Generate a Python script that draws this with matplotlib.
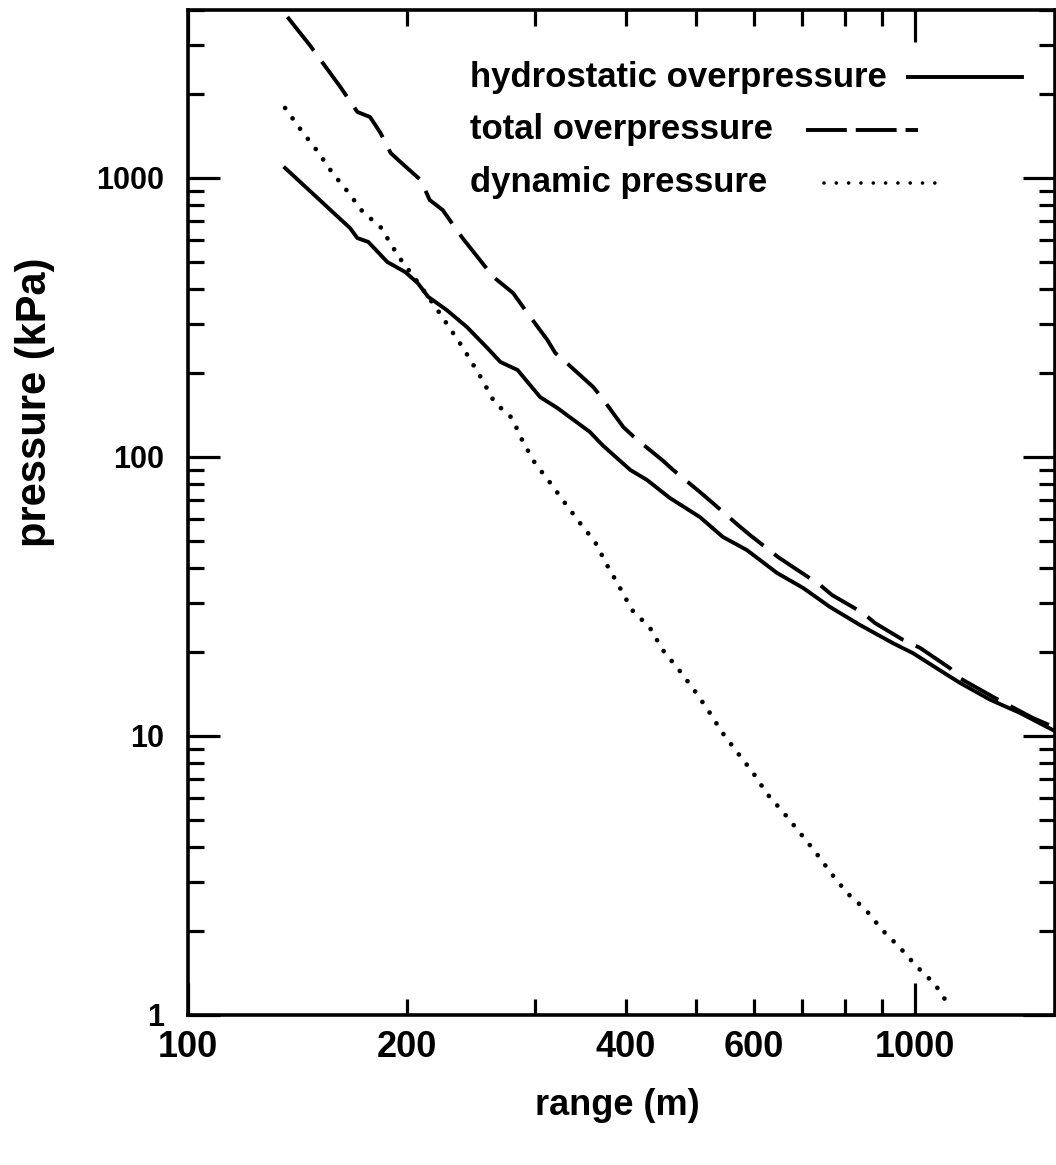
import matplotlib
matplotlib.use("Agg")
import matplotlib.pyplot as plt
from matplotlib.ticker import FixedLocator, FixedFormatter, NullFormatter

plt.rcParams['font.family'] = ['Liberation Sans', 'DejaVu Sans']
plt.rcParams['font.weight'] = 'bold'
plt.rcParams['axes.labelweight'] = 'bold'

# data
range_hydro = [136, 167, 171, 177, 188, 199, 207, 214, 227, 242, 258, 269, 284, 305, 322,
               357, 372, 406, 428, 460, 506, 544, 587, 646, 702, 764, 840, 933, 994, 1082,
               1153, 1268, 1394, 1548]
p_hydro = [1086, 662, 609, 590, 500, 460, 420, 375, 336, 292, 246, 219, 205, 164, 150,
           123, 110, 89.8, 82.7, 71.3, 60.9, 51.7, 46.4, 38.4, 33.9, 29.0, 25.0, 21.5, 19.8, 17.2,
           15.5, 13.5, 12.1, 10.5]

range_total = [137, 147, 162, 171, 178, 184, 190, 196, 209, 215, 224, 238, 263, 280, 293,
               312, 320, 332, 361, 371, 397, 412, 449, 465, 506, 527, 571, 593, 648, 673,
               740, 769, 848, 881, 963, 1016, 1117, 1153, 1281, 1330, 1453, 1548]
p_total = [3777, 2997, 2120, 1724, 1654, 1450, 1229, 1141, 983, 834, 768, 614, 442, 387, 328,
           263, 236, 217, 178, 163, 128, 117, 97.5, 89.8, 74.9, 68.4, 57.0, 52.5, 43.8, 41.0,
           34.8, 32.0, 27.6, 25.4, 22.1, 20.7, 17.5, 16.1, 13.8, 13.1, 11.6, 10.8]

range_dyn = [136, 143, 151, 158, 166, 174, 184, 195, 205, 219, 229, 239, 254, 264, 279,
             289, 300, 315, 330, 346, 363, 377, 393, 408, 432, 450, 474, 497, 519, 543,
             569, 599, 626, 660, 695, 731, 766, 806, 856, 901, 954, 1006, 1065, 1114]
p_dyn = [1782, 1486, 1239, 1042, 891, 755, 667, 521, 438, 345, 290, 246, 189, 157, 138,
         113, 95.2, 80.7, 68.4, 58.0, 49.6, 41.0, 33.9, 28.3, 24.4, 20.3, 17.2, 14.6, 12.4, 10.3,
         8.76, 7.37, 6.20, 5.30, 4.49, 3.81, 3.23, 2.74, 2.38, 2.02, 1.74, 1.49, 1.29, 1.08]

labels = ["hydrostatic overpressure", "total overpressure", "dynamic pressure"]

x_major = [100, 1000]
x_minor = [200, 300, 400, 500, 600, 700, 800, 900]
x_minor_labels = ["200", "", "400", "", "600", "", "", ""]
y_major = [1, 10, 100, 1000]
y_minor = [m * d for d in [1, 10, 100, 1000] for m in range(2, 10)]

LW = 2.8
DASH = (0, (11, 3.5))
DOT_LW = 3.4
DOT = (0, (0.01, 2.7))

fig = plt.figure(figsize=(10.56, 11.65), dpi=100)
ax = fig.add_axes([188 / 1056, 1 - 1015 / 1165, 867 / 1056, 1005 / 1165])

ax.plot(range_hydro, p_hydro, color="black", lw=LW)
ax.plot(range_total, p_total, color="black", lw=LW, linestyle=DASH)
ax.plot(range_dyn, p_dyn, color="black", lw=DOT_LW, linestyle=DOT, dash_capstyle="round")

ax.set_xscale("log")
ax.set_yscale("log")
ax.set_xlim(100, 1558)
ax.set_ylim(1, 4000)

ax.xaxis.set_major_locator(FixedLocator(x_major))
ax.xaxis.set_major_formatter(FixedFormatter([str(v) for v in x_major]))
ax.xaxis.set_minor_locator(FixedLocator(x_minor))
ax.xaxis.set_minor_formatter(FixedFormatter(x_minor_labels))
ax.yaxis.set_major_locator(FixedLocator(y_major))
ax.yaxis.set_major_formatter(FixedFormatter([str(v) for v in y_major]))
ax.yaxis.set_minor_locator(FixedLocator(y_minor))
ax.yaxis.set_minor_formatter(NullFormatter())

for s in ax.spines.values():
    s.set_linewidth(2.6)

ax.tick_params(which="both", direction="in", top=True, right=True, width=2.3, colors="black")
ax.tick_params(which="major", length=23)
ax.tick_params(which="minor", length=11.5)
ax.tick_params(axis="x", which="both", labelsize=26, pad=11)
ax.tick_params(axis="y", which="both", labelsize=22, pad=17)

ax.set_xlabel("range (m)", fontsize=26)
ax.xaxis.set_label_coords(0.495, -0.073)
ax.xaxis.label.set_va("top")
ax.set_ylabel("pressure (kPa)", fontsize=30)
ax.yaxis.set_label_coords(-0.153, 0.61)

# hand-placed key, text left-aligned with the sample after it
key_rows = [0.933, 0.881, 0.828]
for lab, yk in zip(labels, key_rows):
    ax.text(0.325, yk, lab, transform=ax.transAxes, fontsize=25, ha="left", va="center")
ax.plot([0.83, 0.962], [key_rows[0], key_rows[0]], transform=ax.transAxes,
        color="black", lw=LW)
ax.plot([0.713, 0.842], [key_rows[1], key_rows[1]], transform=ax.transAxes,
        color="black", lw=LW, linestyle=(0, (10.5, 2.3)))
ax.plot([0.734, 0.863], [key_rows[2], key_rows[2]], transform=ax.transAxes,
        color="black", lw=2.6, linestyle=(0, (0.01, 3.4)), dash_capstyle="round")

fig.savefig("out.png", dpi=100)
